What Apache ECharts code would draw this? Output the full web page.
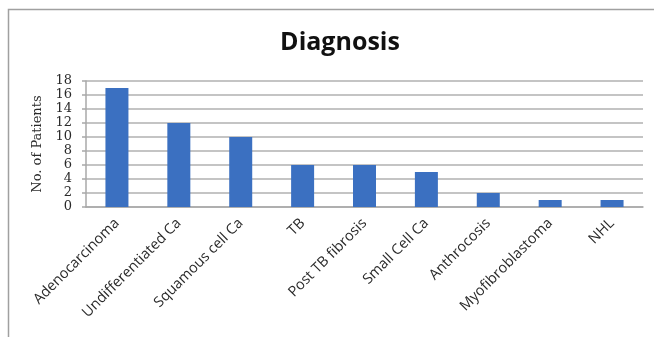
<!DOCTYPE html>
<html>
<head>
<meta charset="utf-8">
<script src="https://cdn.jsdelivr.net/npm/echarts@6/dist/echarts.min.js"></script>
<style>
  html, body { margin: 0; padding: 0; background: #ffffff; }
  #chart { width: 654px; height: 337px; }
</style>
</head>
<body>
<div id="chart"></div>
<script>
// Diagnosis counts per category
const categories = [
  'Adenocarcinoma', 'Undifferentiated Ca', 'Squamous cell Ca', 'TB',
  'Post TB fibrosis', 'Small Cell Ca', 'Anthrocosis', 'Myofibroblastoma', 'NHL'
];
const patients = [17, 12, 10, 6, 6, 5, 2, 1, 1];
const yTicks = { min: 0, max: 18, interval: 2 };

const chart = echarts.init(document.getElementById('chart'), null, { renderer: 'canvas' });

chart.setOption({
  animation: false,
  backgroundColor: '#ffffff',
  title: {
    text: 'Diagnosis',
    left: 335,
    top: 25,
    textAlign: 'center',
    textStyle: { fontFamily: 'Open Sans', fontWeight: 'bold', fontSize: 25, color: '#111111' }
  },
  grid: { left: 86, right: 11, top: 81, bottom: 130 },
  xAxis: {
    type: 'category',
    data: categories,
    axisLine: { show: true, lineStyle: { color: '#a8a8a8', width: 1.5 } },
    axisTick: { show: false },
    axisLabel: {
      interval: 0,
      rotate: 45,
      margin: 14,
      fontFamily: 'Open Sans',
      fontSize: 14.5,
      color: '#2a2a2a'
    }
  },
  yAxis: {
    type: 'value',
    min: yTicks.min,
    max: yTicks.max,
    interval: yTicks.interval,
    name: 'No. of Patients',
    nameLocation: 'middle',
    nameGap: 37,
    nameTextStyle: { fontFamily: 'DejaVu Serif', fontSize: 13, color: '#2a2a2a' },
    axisLine: { show: true, lineStyle: { color: '#a8a8a8', width: 1.5 } },
    axisTick: { show: true, length: 4, lineStyle: { color: '#a8a8a8', width: 1.5 } },
    axisLabel: { fontFamily: 'DejaVu Serif', fontSize: 13, color: '#2a2a2a', margin: 14 },
    splitLine: { show: true, lineStyle: { color: '#b0b0b0', width: 1.5 } }
  },
  series: [{
    type: 'bar',
    data: patients,
    barWidth: 23,
    itemStyle: { color: '#3b70c1' }
  }],
  graphic: [{
    type: 'rect',
    shape: { x: 8.5, y: 9.5, width: 700, height: 400 },
    style: { fill: 'none', stroke: '#a0a0a0', lineWidth: 1.5 },
    silent: true
  }]
});
</script>
</body>
</html>
